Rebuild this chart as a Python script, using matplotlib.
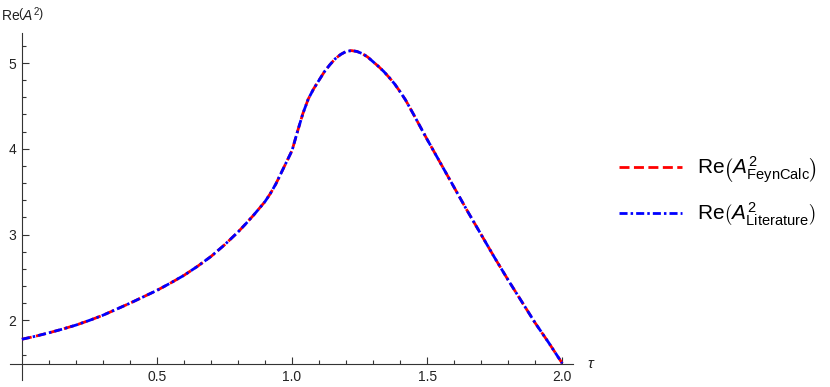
import numpy as np
import matplotlib.pyplot as plt
from matplotlib.ticker import FixedLocator

plt.rcParams['font.family'] = ['Liberation Sans', 'DejaVu Sans']
plt.rcParams['mathtext.fontset'] = 'custom'
plt.rcParams['mathtext.rm'] = 'Liberation Sans'
plt.rcParams['mathtext.it'] = 'Liberation Sans:italic'
plt.rcParams['mathtext.bf'] = 'Liberation Sans:bold'

# values
tau = [0.00, 0.05, 0.10, 0.15, 0.20, 0.25, 0.30, 0.35, 0.40, 0.45, 0.50, 0.55,
       0.60, 0.65, 0.70, 0.75, 0.80, 0.83, 0.86, 0.88, 0.90, 0.92, 0.94, 0.96,
       0.98, 1.00, 1.02, 1.04, 1.06, 1.08, 1.10, 1.12, 1.14, 1.16, 1.18, 1.20,
       1.22, 1.24, 1.26, 1.28, 1.30, 1.32, 1.34, 1.36, 1.38, 1.40, 1.42, 1.45,
       1.50, 1.55, 1.60, 1.65, 1.70, 1.75, 1.80, 1.85, 1.90, 1.95, 2.00]
re_feyncalc = [1.78, 1.815, 1.855, 1.898, 1.945, 2.00, 2.06, 2.13, 2.20, 2.275,
               2.35, 2.435, 2.525, 2.63, 2.745, 2.88, 3.03, 3.13, 3.235, 3.31,
               3.385, 3.48, 3.59, 3.72, 3.85, 3.98, 4.20, 4.41, 4.58, 4.70, 4.80,
               4.90, 4.98, 5.05, 5.10, 5.135, 5.145, 5.135, 5.11, 5.07, 5.015,
               4.96, 4.90, 4.83, 4.755, 4.665, 4.57, 4.40, 4.11, 3.83, 3.55, 3.27,
               3.00, 2.73, 2.47, 2.22, 1.97, 1.74, 1.50]
re_literature = [1.78, 1.815, 1.855, 1.898, 1.945, 2.00, 2.06, 2.13, 2.20, 2.275,
                 2.35, 2.435, 2.525, 2.63, 2.745, 2.88, 3.03, 3.13, 3.235, 3.31,
                 3.385, 3.48, 3.59, 3.72, 3.85, 3.98, 4.20, 4.41, 4.58, 4.70, 4.80,
                 4.90, 4.98, 5.05, 5.10, 5.135, 5.145, 5.135, 5.11, 5.07, 5.015,
                 4.96, 4.90, 4.83, 4.755, 4.665, 4.57, 4.40, 4.11, 3.83, 3.55, 3.27,
                 3.00, 2.73, 2.47, 2.22, 1.97, 1.74, 1.50]

x_ticks = [0.5, 1.0, 1.5, 2.0]
x_ticklabels = ['0.5', '1.0', '1.5', '2.0']
y_ticks = [2, 3, 4, 5]
y_ticklabels = ['2', '3', '4', '5']

axis_col = '#333333'

fig = plt.figure(figsize=(8.3, 3.87), dpi=100)
ax = fig.add_axes([10 / 830, 7 / 387, 563 / 830, 347 / 387])

ax.plot(tau, re_feyncalc, color='#ff0000', lw=2.0, linestyle=(0, (3.6, 1.6)),
        label=r'Re$\left(A^2_{\mathrm{FeynCalc}}\right)$', zorder=3)
ax.plot(tau, re_literature, color='#0000ff', lw=2.0,
        linestyle=(0, (2.9, 1.1, 0.9, 1.1)),
        label=r'Re$\left(A^2_{\mathrm{Literature}}\right)$', zorder=4)

ax.set_xlim(-0.044, 2.04)
ax.set_ylim(1.305, 5.35)

for s in ['top', 'right']:
    ax.spines[s].set_visible(False)
ax.spines['left'].set_position(('data', 0))
ax.spines['bottom'].set_position(('data', 1.488))
for s in ['left', 'bottom']:
    ax.spines[s].set_color(axis_col)
    ax.spines[s].set_linewidth(0.8)

ax.set_xticks(x_ticks)
ax.set_xticklabels(x_ticklabels)
ax.set_yticks(y_ticks)
ax.set_yticklabels(y_ticklabels)
ax.xaxis.set_minor_locator(FixedLocator(np.round(np.arange(0.1, 2.0, 0.1), 2)))
ax.yaxis.set_minor_locator(FixedLocator(np.round(np.arange(1.6, 5.3, 0.2), 2)))
ax.tick_params(which='both', direction='in', color=axis_col, width=0.8,
               labelsize=10, labelcolor='#222222')
ax.tick_params(which='major', length=5, pad=4)
ax.tick_params(which='minor', length=3)

ax.text(-0.078, 5.566, r'Re$\left(A^2\right)$', fontsize=10, color='#222222',
        ha='left', va='center', clip_on=False)
ax.text(2.09, 1.488, r'$\tau$', fontsize=11, color='#222222',
        ha='left', va='center', clip_on=False)

fig.legend(loc='center left', bbox_to_anchor=(619 / 830, 0.505), frameon=False,
           fontsize=15, handlelength=3.0, handletextpad=0.75, labelspacing=0.75,
           borderaxespad=0, borderpad=0)

fig.savefig('out.png', dpi=100)
